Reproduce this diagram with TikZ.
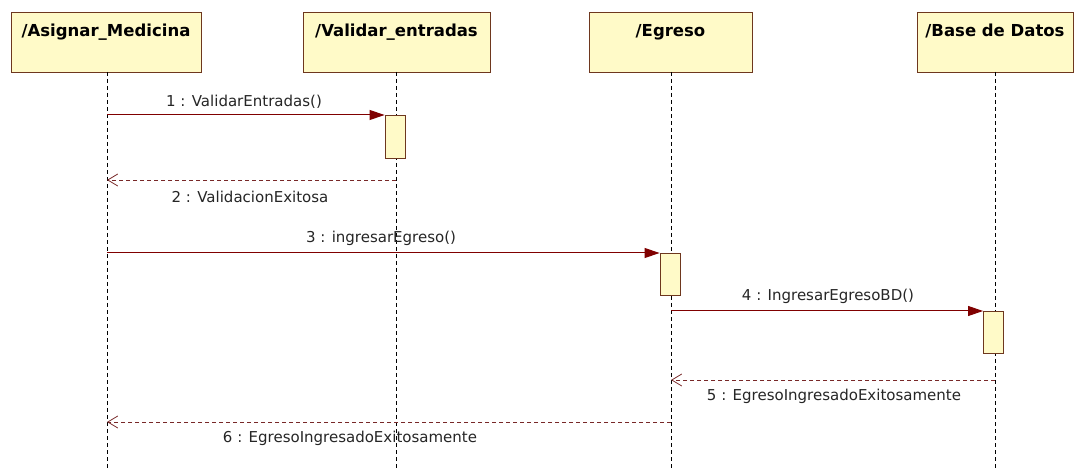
\documentclass[tikz,border=0pt]{standalone}
\usepackage{fontspec}
\setmainfont{DejaVu Sans}
\usetikzlibrary{arrows.meta}
\definecolor{boxfill}{RGB}{255,250,200}
\definecolor{boxline}{RGB}{110,55,30}
\definecolor{msg}{RGB}{128,0,0}
\definecolor{ret}{RGB}{120,40,40}
\begin{document}
\begin{tikzpicture}[x=1pt,y=-1pt]
\tikzset{
  objbox/.style={draw=boxline, fill=boxfill, line width=1pt, anchor=north,
    minimum height=60pt, inner xsep=0pt, inner ysep=6pt, text height=18.5pt, text depth=29.5pt,
    font=\bfseries\fontsize{16.5}{18}\selectfont},
  actbox/.style={draw=boxline, fill=boxfill, line width=0.9pt, minimum width=20pt, inner sep=0pt, anchor=north},
  lifeline/.style={draw=black, line width=0.9pt, dash pattern=on 4pt off 3pt},
  call/.style={draw=msg, line width=1pt, -{Triangle[length=15pt,width=10pt]}},
  reply/.style={draw=ret, line width=0.8pt, dash pattern=on 4pt off 3pt, -{Straight Barb[length=10pt,width=12pt,line width=0.8pt]}},
  lbl/.style={font=\fontsize{15}{17}\selectfont, text=black!85, inner sep=1pt}
}
\fill[white] (0,0) rectangle (1074,470);
\useasboundingbox (0,0) rectangle (1074,470);

% objects
\node[objbox, minimum width=190pt] (A) at (106,12) {/Asignar\_Medicina};
\node[objbox, minimum width=187pt] (V) at (396.5,12) {/Validar\_entradas};
\node[objbox, minimum width=163pt] (E) at (670.5,12) {/Egreso};
\node[objbox, minimum width=156pt] (B) at (995,12) {/Base de Datos};

% lifelines ends
\coordinate (Aend) at (107,470);
\coordinate (Vend) at (396,470);
\coordinate (Eend) at (671,470);
\coordinate (Bend) at (995,470);
\coordinate (Atop) at (107,72);
\coordinate (Vtop) at (396,72);
\coordinate (Etop) at (671,72);
\coordinate (Btop) at (995,72);
\draw[lifeline] (Atop) -- (Aend);
\draw[lifeline] (Vtop) -- (Vend);
\draw[lifeline] (Etop) -- (Eend);
\draw[lifeline] (Btop) -- (Bend);

% activations
\node[actbox, minimum height=43pt] (act1) at (395,115) {};
\node[actbox, minimum height=42pt] (act2) at (670,253) {};
\node[actbox, minimum height=42pt] (act3) at (993.5,311) {};

% message points
\coordinate (m1s) at (107,115);
\coordinate (m2s) at (396,180);
\coordinate (m2e) at (107,180);
\coordinate (m3s) at (107,253);
\coordinate (m4s) at (671,311);
\coordinate (m5s) at (995,380);
\coordinate (m5e) at (671,380);
\coordinate (m6s) at (671,422);
\coordinate (m6e) at (107,422);

\draw[call] (m1s) -- (act1.north west);
\node[lbl] (l1) at (244,102) {1 : ValidarEntradas()};
\draw[reply] (m2s) -- (m2e);
\node[lbl] (l2) at (250,197) {2 : ValidacionExitosa};
\draw[call] (m3s) -- (act2.north west);
\node[lbl] (l3) at (381,238) {3 : ingresarEgreso()};
\draw[call] (m4s) -- (act3.north west);
\node[lbl] (l4) at (828,296) {4 : IngresarEgresoBD()};
\draw[reply] (m5s) -- (m5e);
\node[lbl] (l5) at (834,396) {5 : EgresoIngresadoExitosamente};
\draw[reply] (m6s) -- (m6e);
\node[lbl] (l6) at (350,438) {6 : EgresoIngresadoExitosamente};
\end{tikzpicture}
\end{document}
